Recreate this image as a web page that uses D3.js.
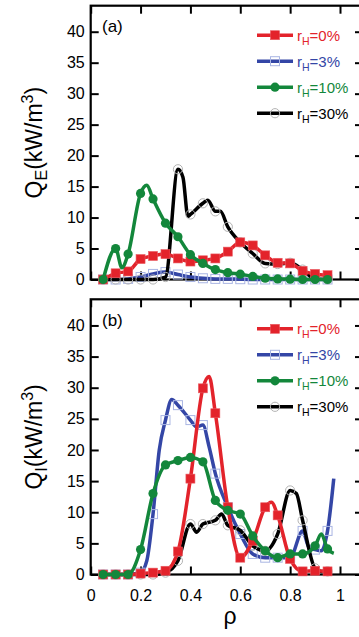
<!DOCTYPE html>
<html>
<head>
<meta charset="utf-8">
<script src="https://cdn.jsdelivr.net/npm/d3@7"></script>
<style>
  body { margin: 0; background: #fff; }
  svg { display: block; font-family: "Liberation Sans", Arial, sans-serif; }
</style>
</head>
<body>
<div id="chart"></div>
<script>
// ---- data ----
const xTicks = [0, 0.2, 0.4, 0.6, 0.8, 1];
const yTicks = [0, 5, 10, 15, 20, 25, 30, 35, 40];
const xTickLabels = ['0', '0.2', '0.4', '0.6', '0.8', '1'];
const seriesNames = ['0%', '3%', '10%', '30%'];
const panelLabels = ['(a)', '(b)'];
const yTitleSubs = ['E', 'I'];

const rhoGrid = [0.05, 0.10, 0.15, 0.20, 0.25, 0.30, 0.35, 0.40, 0.45, 0.50, 0.55, 0.60, 0.65, 0.70, 0.75, 0.80, 0.85, 0.90, 0.95];

// panel (a) Q_E
const qeRho0 = rhoGrid;
const qe0 = [0, 1.0, 1.3, 3.3, 3.8, 4.1, 3.4, 2.9, 3.1, 3.4, 4.5, 6.0, 5.5, 3.9, 2.7, 2.6, 1.4, 0.9, 0.7];
const qeRho3 = rhoGrid;
const qe3 = [0, 0, 0.1, 0.4, 0.9, 1.2, 0.8, 0.4, 0.2, 0.1, 0.1, 0.05, 0, 0, 0, 0, 0, 0, 0];
const qeRho10 = [0.05, 0.10, 0.125, 0.15, 0.20, 0.225, 0.25, 0.30, 0.35, 0.40, 0.45, 0.50, 0.55, 0.60, 0.65, 0.70, 0.75, 0.80, 0.85, 0.90, 0.95];
const qe10 = [0, 5.0, 1.9, 4.1, 13.9, 15.2, 13.0, 9.1, 6.9, 4.0, 2.6, 1.6, 1.1, 0.86, 0.5, 0.2, 0.1, 0.05, 0, 0, 0];
const qeRho30 = [0.05, 0.10, 0.15, 0.20, 0.25, 0.30, 0.35, 0.37, 0.39, 0.40, 0.45, 0.47, 0.50, 0.52, 0.55, 0.60, 0.65, 0.70, 0.75, 0.80, 0.85, 0.90, 0.95];
const qe30 = [0, 0, 0, 0, 0, 0.4, 17.8, 16.5, 10.2, 10.5, 12.3, 12.8, 11.0, 11.0, 8.5, 6.0, 4.2, 2.6, 2.5, 2.7, 1.6, 0.1, 0];

// panel (b) Q_I
const qiRho0 = [0.05, 0.10, 0.15, 0.20, 0.25, 0.30, 0.35, 0.40, 0.45, 0.475, 0.50, 0.55, 0.60, 0.65, 0.70, 0.725, 0.75, 0.80, 0.85, 0.90, 0.95];
const qi0 = [0, 0, 0, 0.15, 0.3, 0.6, 3.7, 15.4, 29.9, 31.8, 25.9, 10.8, 2.7, 5.4, 10.8, 11.6, 9.5, 2.5, 0.5, 0.6, 0.5];
const qiRho3 = [0.05, 0.10, 0.15, 0.20, 0.225, 0.25, 0.275, 0.30, 0.325, 0.35, 0.40, 0.425, 0.45, 0.475, 0.50, 0.55, 0.60, 0.65, 0.70, 0.75, 0.80, 0.85, 0.875, 0.90, 0.925, 0.95, 0.975];
const qi3 = [0, 0, 0, 0.3, 2.2, 9.7, 20, 24.8, 28.1, 27.2, 24.8, 23.7, 24.0, 20.5, 16.2, 10.8, 6.5, 3.3, 2.7, 2.7, 2.7, 7.0, 4.4, 4.0, 3.8, 7.0, 15.4];
const qiRho10 = [0.05, 0.10, 0.15, 0.20, 0.25, 0.30, 0.35, 0.40, 0.45, 0.50, 0.55, 0.60, 0.65, 0.70, 0.75, 0.80, 0.85, 0.90, 0.925, 0.95, 0.975];
const qi10 = [0, 0, 0, 4.0, 13.0, 17.6, 18.3, 18.8, 18.1, 11.9, 10.3, 9.7, 6.2, 3.8, 2.7, 3.3, 3.3, 4.6, 6.5, 4.1, 3.4];
const qiRho30 = [0.05, 0.10, 0.15, 0.20, 0.25, 0.30, 0.35, 0.40, 0.425, 0.45, 0.50, 0.525, 0.55, 0.60, 0.65, 0.70, 0.75, 0.80, 0.825, 0.85, 0.90, 0.925, 0.95];
const qi30 = [0, 0, 0, 0, 0, 0.3, 2.2, 8.1, 6.8, 8.1, 8.7, 9.7, 7.9, 7.1, 4.6, 3.8, 6.5, 13.5, 13.0, 8.7, 1.0, 0.5, 0.5];

// ---- styles ----
const colors = ['#e3232b', '#3446a6', '#13873b', '#000000'];
const markers = ['fsquare', 'osquare', 'fcircle', 'ocircle'];
// draw order: blue, black, red, green
const drawOrder = [1, 3, 0, 2];

const W = 359, H = 637;
const left = 90.7, xOnePx = 340, right = 363;
const panels = [
    { top: 5.7, bottom: 279.5, rho: [qeRho0, qeRho3, qeRho10, qeRho30], val: [qe0, qe3, qe10, qe30] },
    { top: 299.3, bottom: 574.5, rho: [qiRho0, qiRho3, qiRho10, qiRho30], val: [qi0, qi3, qi10, qi30] }
];

const getX = () => d3.scaleLinear().domain([0, 1]).range([left, xOnePx]);
const getY = p => d3.scaleLinear().domain([0, 44.2]).range([p.bottom, p.top]);

const onGrid = r => Math.abs(r * 20 - Math.round(r * 20)) < 1e-6;

function drawMarker(g, type, color, cx, cy) {
    if (type === 'fsquare') {
        g.append('rect').attr('x', cx - 4.5).attr('y', cy - 4.5).attr('width', 9).attr('height', 9)
            .attr('fill', color).attr('stroke', '#ea5a62').attr('stroke-width', 0.6);
    } else if (type === 'osquare') {
        g.append('rect').attr('x', cx - 4.5).attr('y', cy - 4.5).attr('width', 9).attr('height', 9)
            .attr('fill', 'none').attr('stroke', '#a9b5e3').attr('stroke-width', 1);
    } else if (type === 'fcircle') {
        g.append('circle').attr('cx', cx).attr('cy', cy).attr('r', 4.6).attr('fill', color);
    } else {
        g.append('circle').attr('cx', cx).attr('cy', cy).attr('r', 4.6)
            .attr('fill', 'none').attr('stroke', '#b3b3b3').attr('stroke-width', 1);
    }
}

function draw() {
    const svg = d3.select('#chart').append('svg')
        .attr('width', W).attr('height', H);

    const x = getX();

    panels.forEach((p, pi) => {
        const y = getY(p);
        const g = svg.append('g');

        // axes (ticks pointing inward)
        g.append('g')
            .attr('transform', `translate(${left},0)`)
            .call(d3.axisLeft(y).tickValues(yTicks).tickSize(-8).tickPadding(6).tickFormat(d3.format('d')))
            .call(s => s.select('.domain').remove())
            .call(s => s.selectAll('text').attr('font-size', 16).attr('fill', '#000').attr('font-family', 'Liberation Sans, Arial'))
            .call(s => s.selectAll('line').attr('stroke-width', 2));

        g.append('g')
            .attr('transform', `translate(${right},0)`)
            .call(d3.axisRight(y).tickValues(yTicks).tickSize(-8).tickFormat(''))
            .call(s => s.select('.domain').remove())
            .call(s => s.selectAll('line').attr('stroke-width', 2));

        g.append('g')
            .attr('transform', `translate(0,${p.bottom})`)
            .call(d3.axisBottom(x).tickValues(xTicks).tickSize(-8).tickPadding(15)
                .tickFormat((d, i) => pi === 1 ? xTickLabels[i] : ''))
            .call(s => s.select('.domain').remove())
            .call(s => s.selectAll('text').attr('font-size', 16).attr('fill', '#000').attr('font-family', 'Liberation Sans, Arial'))
            .call(s => s.selectAll('line').attr('stroke-width', 2));

        g.append('g')
            .attr('transform', `translate(0,${p.top})`)
            .call(d3.axisTop(x).tickValues(xTicks).tickSize(-8).tickFormat(''))
            .call(s => s.select('.domain').remove())
            .call(s => s.selectAll('line').attr('stroke-width', 2));

        g.append('rect')
            .attr('x', left).attr('y', p.top)
            .attr('width', right - left).attr('height', p.bottom - p.top)
            .attr('fill', 'none').attr('stroke', '#000').attr('stroke-width', 2.2);

        // series
        const line = d3.line()
            .x(d => x(d[0]))
            .y(d => y(d[1]))
            .curve(d3.curveMonotoneX);

        drawOrder.forEach(si => {
            const pts = p.rho[si].map((r, i) => [r, p.val[si][i]]);
            g.append('path')
                .attr('d', line(pts))
                .attr('fill', 'none')
                .attr('stroke', colors[si])
                .attr('stroke-width', 3.5)
                .attr('stroke-linejoin', 'round');
            const mg = g.append('g');
            pts.filter(d => onGrid(d[0])).forEach(d => drawMarker(mg, markers[si], colors[si], x(d[0]), y(d[1])));
        });

        // panel label
        g.append('text')
            .attr('x', 102).attr('y', p.top + 26.5)
            .attr('font-size', 17)
            .text(panelLabels[pi]);

        // legend
        seriesNames.forEach((name, si) => {
            const ly = p.top + 29.5 + si * 26;
            g.append('line')
                .attr('x1', 257).attr('x2', 293).attr('y1', ly).attr('y2', ly)
                .attr('stroke', colors[si]).attr('stroke-width', 3.5);
            drawMarker(g, markers[si], colors[si], 275, ly);
            const t = g.append('text')
                .attr('x', 297).attr('y', ly + 5.5)
                .attr('font-size', 15)
                .attr('fill', colors[si]);
            t.append('tspan').text('r');
            t.append('tspan').attr('font-size', 10.5).attr('dy', 4).text('H');
            t.append('tspan').attr('dy', -4).text('=' + name);
        });

        // y title
        const yt = g.append('text')
            .attr('transform', `translate(42,${(p.top + p.bottom) / 2}) rotate(-90)`)
            .attr('text-anchor', 'middle')
            .attr('font-size', 23);
        yt.append('tspan').text('Q');
        yt.append('tspan').attr('font-size', 16).attr('dy', 5).text(yTitleSubs[pi]);
        yt.append('tspan').attr('dy', -5).text('(kW/m');
        yt.append('tspan').attr('font-size', 16).attr('dy', -9).text('3');
        yt.append('tspan').attr('dy', 9).text(')');
    });

    // x title
    svg.append('text')
        .attr('x', 230).attr('y', 624)
        .attr('text-anchor', 'middle')
        .attr('font-size', 23)
        .text('ρ');
}

draw();
</script>
</body>
</html>
